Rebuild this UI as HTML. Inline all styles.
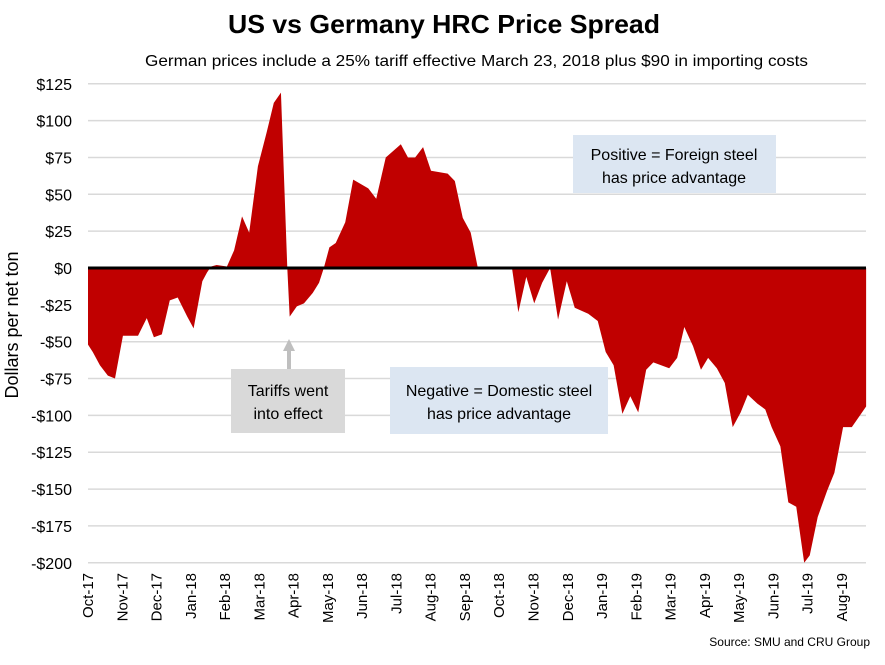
<!DOCTYPE html>
<html><head><meta charset="utf-8"><style>
body{margin:0;background:#fff;font-family:"Liberation Sans",sans-serif}
svg text{font-family:"Liberation Sans",sans-serif}
</style></head><body>
<svg width="885" height="660" viewBox="0 0 885 660">
<rect width="885" height="660" fill="#fff"/>
<text x="228" y="33" font-size="26" font-weight="bold" textLength="432" lengthAdjust="spacingAndGlyphs">US vs Germany HRC Price Spread</text>
<text x="145" y="66" font-size="16" textLength="663" lengthAdjust="spacingAndGlyphs">German prices include a 25% tariff effective March 23, 2018 plus $90 in importing costs</text>
<g id="grid"></g>
<path id="area" fill="#c00000"/>
<line id="zero" stroke="#000" stroke-width="3"/>
<g id="yticks"></g>
<g id="xticks"></g>
<text transform="translate(18,325) rotate(-90)" text-anchor="middle" font-size="18">Dollars per net ton</text>
<rect x="573" y="135" width="203" height="58" fill="#dce6f2"/>
<text x="674" y="160" text-anchor="middle" font-size="16">Positive = Foreign steel</text>
<text x="674" y="183" text-anchor="middle" font-size="16">has price advantage</text>
<rect x="390" y="367" width="218" height="67" fill="#dce6f2"/>
<text x="499" y="396" text-anchor="middle" font-size="16">Negative = Domestic steel</text>
<text x="499" y="419" text-anchor="middle" font-size="16">has price advantage</text>
<rect x="231" y="369" width="114" height="64" fill="#d9d9d9"/>
<text x="288" y="396" text-anchor="middle" font-size="16">Tariffs went</text>
<text x="288" y="419" text-anchor="middle" font-size="16">into effect</text>
<line x1="289" y1="350" x2="289" y2="369" stroke="#bfbfbf" stroke-width="4"/>
<polygon points="283,351 295,351 289,339" fill="#bfbfbf"/>
<text x="870" y="646" text-anchor="end" font-size="12">Source: SMU and CRU Group</text>
</svg>
<script>
const weeks=[0,0.6,1.5,2.5,3.4,4.4,6.3,7.4,8.3,9.3,10.3,11.3,12.5,13.3,14.4,15,15.5,16.2,17.5,18.4,19.4,20.3,21.4,22.5,23.4,24.3,25.1,25.4,26.3,27.2,28.3,29.1,29.7,30.4,31.2,32.4,33.4,35.3,36.3,37.5,39.4,40.3,41.2,42.2,43.2,44.3,45.3,46.2,47.2,48.2,49.1,53.4,54.2,55.2,56.2,57.2,58.2,59.2,60.3,61.3,63,64.2,65.2,66.2,67.3,68.3,69.3,70.3,71.2,73.2,74.2,75.1,76.2,77.2,78.1,79.2,80.2,81.2,82.2,83.1,84.3,85.3,86.1,87.2,88.2,89.2,90.2,90.9,91.9,93.1,94,95.1,96.2,98];
const spread=[-52,-57,-66,-73,-75,-46,-46,-34,-47,-45,-22,-20,-33,-41,-9,-3,1,2,1,12,35,24,69,92,112,119,0,-33,-26,-24,-17,-10,0,14,17,31,60,54,47,75,84,75,75,82,66,65,64,59,34,24,0,0,-30,-6,-24,-10,0,-35,-9,-27,-31,-36,-57,-66,-99,-87,-98,-69,-64,-68,-61,-40,-53,-69,-61,-68,-78,-108,-98,-86,-92,-96,-108,-121,-159,-162,-200,-195,-169,-151,-139,-108,-108,-94];
const yTicks=[125,100,75,50,25,0,-25,-50,-75,-100,-125,-150,-175,-200];
const months=["Oct-17","Nov-17","Dec-17","Jan-18","Feb-18","Mar-18","Apr-18","May-18","Jun-18","Jul-18","Aug-18","Sep-18","Oct-18","Nov-18","Dec-18","Jan-19","Feb-19","Mar-19","Apr-19","May-19","Jun-19","Jul-19","Aug-19"];
const NS="http://www.w3.org/2000/svg";
const X0=88,X1=866;
const xs=w=>X0+w*7.94;
const ys=v=>268-v*(479/325);
const grid=document.getElementById('grid'),yt=document.getElementById('yticks'),xt=document.getElementById('xticks');
yTicks.forEach(v=>{
 const l=document.createElementNS(NS,'line');
 l.setAttribute('x1',X0);l.setAttribute('x2',X1);l.setAttribute('y1',ys(v));l.setAttribute('y2',ys(v));
 l.setAttribute('stroke','#d9d9d9');l.setAttribute('stroke-width','1.5');
 
 
 grid.appendChild(l);
 const t=document.createElementNS(NS,'text');
 t.setAttribute('x',72);t.setAttribute('y',ys(v)+6);t.setAttribute('text-anchor','end');t.setAttribute('font-size','16');
 t.textContent=(v<0?'-$':'$')+Math.abs(v);
 
 
 yt.appendChild(t);
});
months.forEach((m,i)=>{
 const x=X0+i*34.27+5;
 const t=document.createElementNS(NS,'text');
 t.setAttribute('transform','translate('+x+',573) rotate(-90)');
 t.setAttribute('text-anchor','end');t.setAttribute('font-size','15');
 t.textContent=m;
 
 
 xt.appendChild(t);
});
let d='M'+xs(weeks[0])+','+ys(0);
weeks.forEach((w,i)=>{d+=' L'+xs(w)+','+ys(spread[i]);});
d+=' L'+xs(weeks[weeks.length-1])+','+ys(0)+' Z';
document.getElementById('area').setAttribute('d',d);
const z=document.getElementById('zero');
z.setAttribute('x1',X0);z.setAttribute('x2',X1);z.setAttribute('y1',ys(0));z.setAttribute('y2',ys(0));
</script>
</body></html>
